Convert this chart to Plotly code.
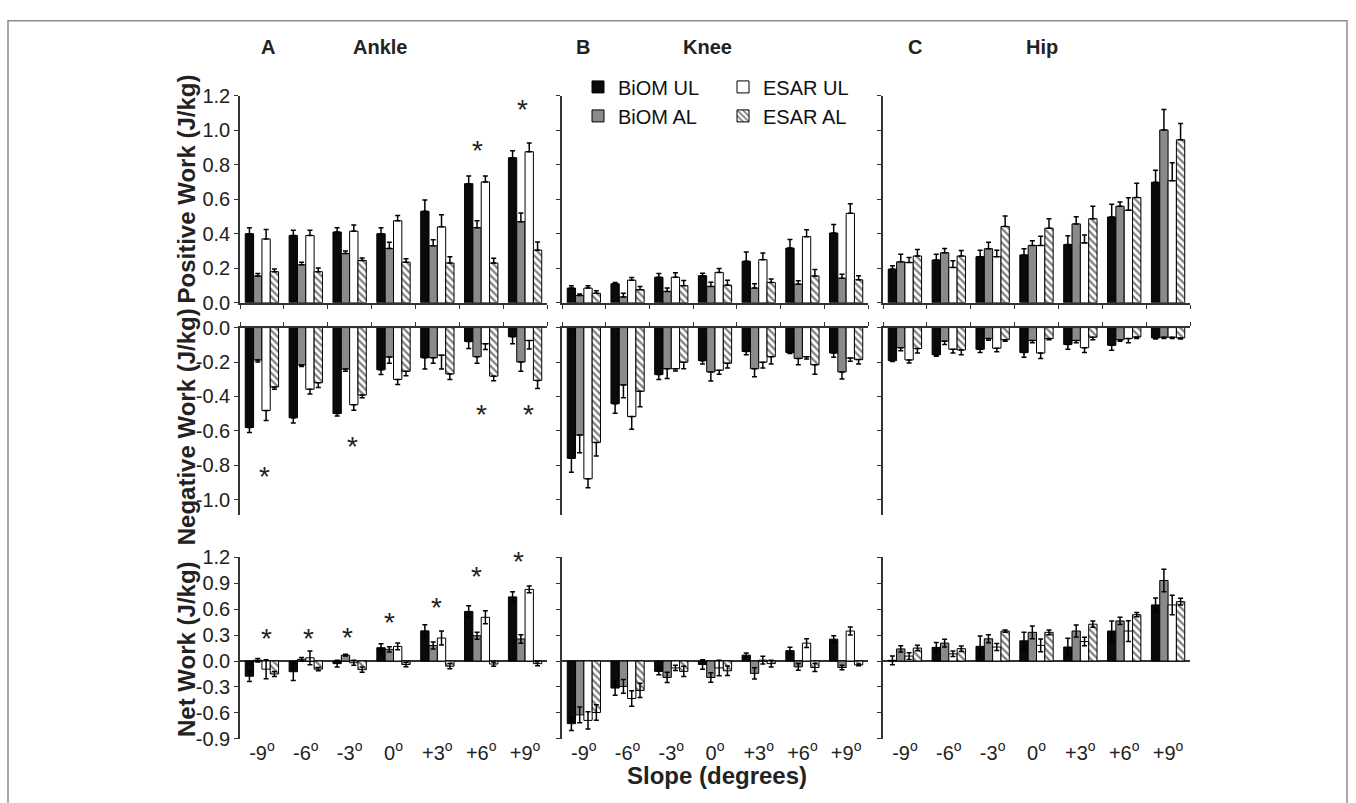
import plotly.graph_objects as go

W, H = 1356, 803


def px(xp):
    return xp / W


def py(yp):
    return 1 - yp / H


slopes = ["-9", "-6", "-3", "0", "+3", "+6", "+9"]
series = ["BiOM UL", "BiOM AL", "ESAR UL", "ESAR AL"]

# ---------------- Positive work (J/kg) ----------------
ankle_pos = [[0.40, 0.39, 0.41, 0.40, 0.53, 0.69, 0.84],
             [0.155, 0.22, 0.285, 0.315, 0.33, 0.435, 0.47],
             [0.37, 0.39, 0.415, 0.475, 0.44, 0.70, 0.875],
             [0.18, 0.18, 0.245, 0.235, 0.23, 0.23, 0.305]]
ankle_pos_err = [[0.035, 0.03, 0.025, 0.035, 0.065, 0.045, 0.04],
                 [0.015, 0.015, 0.015, 0.035, 0.035, 0.04, 0.05],
                 [0.055, 0.03, 0.035, 0.03, 0.07, 0.035, 0.05],
                 [0.015, 0.022, 0.015, 0.02, 0.037, 0.028, 0.047]]
knee_pos = [[0.085, 0.110, 0.148, 0.157, 0.241, 0.317, 0.404],
            [0.042, 0.034, 0.066, 0.095, 0.085, 0.108, 0.142],
            [0.085, 0.131, 0.148, 0.176, 0.250, 0.383, 0.518],
            [0.055, 0.076, 0.099, 0.102, 0.118, 0.155, 0.133]]
knee_pos_err = [[0.014, 0.008, 0.021, 0.014, 0.053, 0.049, 0.049],
                [0.009, 0.021, 0.019, 0.024, 0.025, 0.019, 0.023],
                [0.014, 0.015, 0.026, 0.023, 0.038, 0.040, 0.055],
                [0.015, 0.019, 0.030, 0.029, 0.020, 0.038, 0.024]]
hip_pos = [[0.195, 0.248, 0.267, 0.277, 0.337, 0.497, 0.698],
           [0.237, 0.290, 0.313, 0.332, 0.457, 0.559, 1.001],
           [0.233, 0.205, 0.267, 0.332, 0.347, 0.536, 0.707],
           [0.271, 0.271, 0.442, 0.432, 0.487, 0.610, 0.944]]
hip_pos_err = [[0.019, 0.033, 0.038, 0.036, 0.052, 0.074, 0.070],
               [0.044, 0.025, 0.038, 0.028, 0.042, 0.025, 0.119],
               [0.029, 0.038, 0.038, 0.053, 0.045, 0.073, 0.104],
               [0.038, 0.032, 0.060, 0.055, 0.072, 0.082, 0.095]]

# ---------------- Negative work (J/kg) ----------------
ankle_neg = [[-0.58, -0.524, -0.499, -0.245, -0.175, -0.081, -0.053],
             [-0.188, -0.217, -0.241, -0.171, -0.175, -0.169, -0.20],
             [-0.482, -0.358, -0.448, -0.301, -0.16, -0.094, -0.075],
             [-0.345, -0.32, -0.392, -0.254, -0.269, -0.282, -0.307]]
ankle_neg_err = [[0.029, 0.03, 0.015, 0.028, 0.066, 0.041, 0.041],
                 [0.012, 0.009, 0.013, 0.036, 0.032, 0.038, 0.054],
                 [0.057, 0.028, 0.032, 0.03, 0.081, 0.034, 0.049],
                 [0.013, 0.028, 0.015, 0.025, 0.032, 0.027, 0.047]]
knee_neg = [[-0.759, -0.442, -0.273, -0.192, -0.139, -0.145, -0.148],
            [-0.624, -0.333, -0.239, -0.258, -0.239, -0.179, -0.258],
            [-0.878, -0.517, -0.239, -0.248, -0.201, -0.169, -0.177],
            [-0.667, -0.37, -0.201, -0.207, -0.169, -0.216, -0.186]]
knee_neg_err = [[0.081, 0.056, 0.028, 0.019, 0.019, 0.005, 0.025],
                [0.103, 0.075, 0.056, 0.052, 0.047, 0.037, 0.041],
                [0.052, 0.073, 0.013, 0.023, 0.034, 0.013, 0.018],
                [0.079, 0.089, 0.038, 0.028, 0.042, 0.055, 0.025]]
hip_neg = [[-0.192, -0.158, -0.126, -0.145, -0.098, -0.103, -0.06],
           [-0.117, -0.079, -0.064, -0.075, -0.075, -0.07, -0.056],
           [-0.188, -0.126, -0.12, -0.148, -0.117, -0.064, -0.056],
           [-0.122, -0.13, -0.07, -0.064, -0.056, -0.055, -0.06]]
hip_neg_err = [[0.005, 0.009, 0.019, 0.028, 0.028, 0.029, 0.006],
               [0.018, 0.019, 0.009, 0.013, 0.013, 0.009, 0.008],
               [0.017, 0.022, 0.021, 0.031, 0.028, 0.024, 0.008],
               [0.026, 0.028, 0.009, 0.006, 0.014, 0.009, 0.006]]

# ---------------- Net work (J/kg) ----------------
ankle_net = [[-0.176, -0.124, -0.03, 0.154, 0.349, 0.574, 0.742],
             [0.01, 0.02, 0.067, 0.135, 0.18, 0.292, 0.255],
             [-0.094, 0.037, -0.02, 0.169, 0.266, 0.506, 0.829],
             [-0.15, -0.094, -0.1, -0.04, -0.06, -0.035, -0.03]]
ankle_net_err = [[0.06, 0.10, 0.04, 0.045, 0.07, 0.065, 0.06],
                 [0.02, 0.02, 0.01, 0.03, 0.04, 0.04, 0.05],
                 [0.11, 0.08, 0.03, 0.04, 0.08, 0.075, 0.04],
                 [0.03, 0.02, 0.03, 0.025, 0.03, 0.025, 0.025]]
knee_net = [[-0.725, -0.313, -0.12, -0.04, 0.068, 0.12, 0.253],
            [-0.623, -0.294, -0.19, -0.19, -0.143, -0.068, -0.075],
            [-0.687, -0.434, -0.08, -0.08, 0.01, 0.207, 0.347],
            [-0.596, -0.34, -0.12, -0.113, -0.03, -0.075, -0.045]]
knee_net_err = [[0.08, 0.083, 0.04, 0.055, 0.025, 0.04, 0.04],
                [0.09, 0.08, 0.06, 0.055, 0.064, 0.04, 0.025],
                [0.10, 0.09, 0.03, 0.09, 0.045, 0.05, 0.047],
                [0.09, 0.083, 0.06, 0.055, 0.04, 0.047, 0.01]]
hip_net = [[0.008, 0.158, 0.17, 0.234, 0.162, 0.347, 0.649],
           [0.14, 0.207, 0.257, 0.332, 0.347, 0.464, 0.932],
           [0.057, 0.083, 0.162, 0.181, 0.226, 0.347, 0.649],
           [0.15, 0.143, 0.347, 0.332, 0.426, 0.536, 0.687]]
hip_net_err = [[0.05, 0.057, 0.12, 0.10, 0.10, 0.117, 0.08],
               [0.036, 0.045, 0.047, 0.073, 0.07, 0.042, 0.13],
               [0.04, 0.032, 0.04, 0.075, 0.05, 0.12, 0.113],
               [0.032, 0.032, 0.013, 0.028, 0.036, 0.025, 0.04]]

# significance asterisks (ankle only): x position (category index), y value
ankle_pos_star_x = [4.92, 5.95]
ankle_pos_star_y = [0.92, 1.157]
ankle_neg_star_x = [0.06, 2.07, 5.0, 6.07]
ankle_neg_star_y = [-0.825, -0.655, -0.467, -0.467]
ankle_net_star_x = [0.1, 1.06, 1.95, 2.92, 3.99, 4.89, 5.86]
ankle_net_star_y = [0.338, 0.338, 0.35, 0.525, 0.694, 1.05, 1.222]

pos_ticks = [0.0, 0.2, 0.4, 0.6, 0.8, 1.0, 1.2]
neg_ticks = [0.0, -0.2, -0.4, -0.6, -0.8, -1.0]
net_ticks = [1.2, 0.9, 0.6, 0.3, 0.0, -0.3, -0.6, -0.9]

# ---------------- figure ----------------
FONT = "Liberation Sans, Arial, Helvetica, sans-serif"
AX = "#333333"
TXT = "#222222"
colors = ["#0a0a0a", "#8a8a8a", "#ffffff", "#ffffff"]
patterns = ["", "", "", "\\"]

xpos = list(range(len(slopes)))
boundaries = [i - 0.5 for i in range(len(slopes) + 1)]
tick_labels = [f"{s}<sup>o</sup>" for s in slopes]

cols_px = [(240, 547), (562, 868), (883, 1190)]
rows_px = [(87, 300), (325.5, 518.5), (561.7, 748.3)]
row_ranges = [[0, 1.2], [-1.09, 0], [-0.9, 1.2]]
row_ticks = [pos_ticks, neg_ticks, net_ticks]
kinds = ["pos", "neg", "net"]

panel_data = [(ankle_pos, ankle_pos_err), (knee_pos, knee_pos_err), (hip_pos, hip_pos_err),
              (ankle_neg, ankle_neg_err), (knee_neg, knee_neg_err), (hip_neg, hip_neg_err),
              (ankle_net, ankle_net_err), (knee_net, knee_net_err), (hip_net, hip_net_err)]

fig = go.Figure()

for p, (vals, errs) in enumerate(panel_data):
    r, c = divmod(p, 3)
    kind = kinds[r]
    sfx = "" if p == 0 else str(p + 1)
    for s in range(4):
        zeros = [0] * len(vals[s])
        if kind == "pos":
            ey = dict(type="data", symmetric=False, array=errs[s], arrayminus=zeros)
        elif kind == "neg":
            ey = dict(type="data", symmetric=False, array=zeros, arrayminus=errs[s])
        else:
            ey = dict(type="data", symmetric=True, array=errs[s])
        ey.update(color="black", thickness=1.5, width=2.5)
        fig.add_trace(go.Bar(
            x=xpos, y=vals[s], name=series[s],
            xaxis="x" + sfx, yaxis="y" + sfx,
            marker=dict(color=colors[s], line=dict(color="black", width=1),
                        pattern=dict(shape=patterns[s], fgcolor="black", bgcolor=colors[s],
                                     size=5, solidity=0.45)),
            error_y=ey,
            showlegend=(p == 0), legendgroup=series[s],
            legend="legend" if s < 2 else "legend2",
        ))

    xa = dict(domain=[px(cols_px[c][0]), px(cols_px[c][1])], anchor="y" + sfx,
              range=[-0.5, 6.5], showgrid=False, zeroline=False, fixedrange=True)
    if r < 2:
        xa.update(showline=True, linecolor=AX, linewidth=1.5, ticks="outside", ticklen=4,
                  tickwidth=1.2, tickcolor=AX, tickvals=boundaries, showticklabels=False,
                  side="bottom" if r == 0 else "top")
    else:
        xa.update(showline=False, ticks="", tickvals=xpos, ticktext=tick_labels,
                  tickfont=dict(family=FONT, size=20, color=TXT))
    ya = dict(domain=[py(rows_px[r][1]), py(rows_px[r][0])], anchor="x" + sfx,
              range=row_ranges[r], showgrid=False, fixedrange=True,
              showline=True, linecolor=AX, linewidth=1.5, ticks="outside", ticklen=4,
              tickwidth=1.2, tickcolor=AX,
              tickvals=row_ticks[r], ticktext=[f"{v:.1f}" for v in row_ticks[r]],
              showticklabels=(c == 0), tickfont=dict(family=FONT, size=20, color=TXT),
              zeroline=(r == 2), zerolinecolor=AX, zerolinewidth=1.5)
    fig.layout["xaxis" + sfx] = xa
    fig.layout["yaxis" + sfx] = ya

annotations = []
star_sets = [(0, "", ankle_pos_star_x, ankle_pos_star_y),
             (1, "4", ankle_neg_star_x, ankle_neg_star_y),
             (2, "7", ankle_net_star_x, ankle_net_star_y)]
for r, sfx, sx, sy in star_sets:
    lo, hi = row_ranges[r]
    px_per_unit = (rows_px[r][1] - rows_px[r][0]) / (hi - lo)
    for xx, yy in zip(sx, sy):
        extra = max(0.0, yy - hi) * px_per_unit   # keep stars above the axis top visible
        annotations.append(dict(x=xx, y=min(yy, hi), xref="x" + sfx, yref="y" + sfx, text="*",
                                showarrow=False, yshift=-6.5 + extra,
                                font=dict(family=FONT, size=28, color=TXT)))

titles = [("A", 268, 37), ("Ankle", 380, 37), ("B", 583, 37), ("Knee", 707, 37),
          ("C", 915, 37), ("Hip", 1042, 37)]
for t, xx, yy in titles:
    annotations.append(dict(x=px(xx), y=py(yy), xref="paper", yref="paper",
                            text=f"<b>{t}</b>", showarrow=False, xanchor="center", yanchor="middle",
                            font=dict(family=FONT, size=20, color=TXT)))

ytitles = [("Positive Work (J/kg)", 183.5), ("Negative Work (J/kg)", 428), ("Net Work (J/kg)", 656)]
for t, yy in ytitles:
    annotations.append(dict(x=px(186), y=py(yy), xref="paper", yref="paper",
                            text=f"<b>{t}</b>", showarrow=False, textangle=-90,
                            xanchor="center", yanchor="middle",
                            font=dict(family=FONT, size=24, color=TXT)))

annotations.append(dict(x=px(717), y=py(786), xref="paper", yref="paper",
                        text="<b>Slope (degrees)</b>", showarrow=False,
                        xanchor="center", yanchor="middle",
                        font=dict(family=FONT, size=24, color=TXT)))

legend_common = dict(yanchor="top", xanchor="left", bgcolor="rgba(0,0,0,0)",
                     font=dict(family=FONT, size=20, color="#111"), tracegroupgap=0,
                     orientation="v", itemclick=False, itemdoubleclick=False)

fig.update_layout(
    width=W, height=H,
    margin=dict(l=0, r=0, t=0, b=0),
    paper_bgcolor="white", plot_bgcolor="white",
    barmode="group", bargap=0.24, bargroupgap=0,
    font=dict(family=FONT, color=TXT),
    annotations=annotations,
    legend=dict(x=px(578), y=py(58), **legend_common),
    legend2=dict(x=px(723), y=py(58), **legend_common),
    shapes=[dict(type="rect", xref="paper", yref="paper", x0=px(8), x1=px(1347),
                 y0=-0.1, y1=py(10), line=dict(color="#8a8a8a", width=1.5),
                 fillcolor="rgba(0,0,0,0)", layer="below")],
)

fig.write_html("out.html")
